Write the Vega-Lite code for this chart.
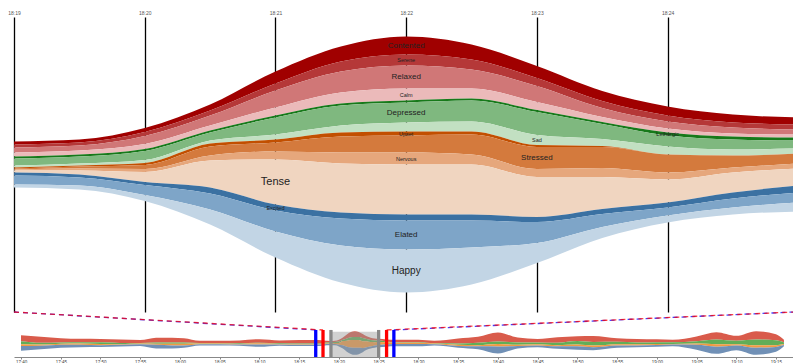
{
"$schema": "https://vega.github.io/schema/vega-lite/v6.json",
"padding": {"left": 7, "top": 10, "right": 0, "bottom": 0},
"background": "white",
"spacing": 0,
"bounds": "flush",
"resolve": {"scale": {"color": "independent", "stroke": "independent", "size": "independent"}},
"config": {"view": {"stroke": null}, "font": "Liberation Sans"},
"datasets": {
"moods": [
{"time":"2024-01-01T18:19:00Z","mood":"Contented","value":3},{"time":"2024-01-01T18:19:00Z","mood":"Serene","value":3},{"time":"2024-01-01T18:19:00Z","mood":"Relaxed","value":5},{"time":"2024-01-01T18:19:00Z","mood":"Calm","value":4},{"time":"2024-01-01T18:19:00Z","mood":"Lethargic","value":2},{"time":"2024-01-01T18:19:00Z","mood":"Depressed","value":7},{"time":"2024-01-01T18:19:00Z","mood":"Sad","value":2},{"time":"2024-01-01T18:19:00Z","mood":"Upset","value":1},{"time":"2024-01-01T18:19:00Z","mood":"Stressed","value":1},{"time":"2024-01-01T18:19:00Z","mood":"Nervous","value":1},{"time":"2024-01-01T18:19:00Z","mood":"Tense","value":2},{"time":"2024-01-01T18:19:00Z","mood":"Excited","value":3},{"time":"2024-01-01T18:19:00Z","mood":"Elated","value":9},{"time":"2024-01-01T18:19:00Z","mood":"Happy","value":3},
{"time":"2024-01-01T18:19:30Z","mood":"Contented","value":3},{"time":"2024-01-01T18:19:30Z","mood":"Serene","value":3},{"time":"2024-01-01T18:19:30Z","mood":"Relaxed","value":5},{"time":"2024-01-01T18:19:30Z","mood":"Calm","value":4},{"time":"2024-01-01T18:19:30Z","mood":"Lethargic","value":2},{"time":"2024-01-01T18:19:30Z","mood":"Depressed","value":7},{"time":"2024-01-01T18:19:30Z","mood":"Sad","value":2},{"time":"2024-01-01T18:19:30Z","mood":"Upset","value":1},{"time":"2024-01-01T18:19:30Z","mood":"Stressed","value":2},{"time":"2024-01-01T18:19:30Z","mood":"Nervous","value":2},{"time":"2024-01-01T18:19:30Z","mood":"Tense","value":4},{"time":"2024-01-01T18:19:30Z","mood":"Excited","value":3},{"time":"2024-01-01T18:19:30Z","mood":"Elated","value":8},{"time":"2024-01-01T18:19:30Z","mood":"Happy","value":4},
{"time":"2024-01-01T18:20:00Z","mood":"Contented","value":4},{"time":"2024-01-01T18:20:00Z","mood":"Serene","value":4},{"time":"2024-01-01T18:20:00Z","mood":"Relaxed","value":8},{"time":"2024-01-01T18:20:00Z","mood":"Calm","value":5},{"time":"2024-01-01T18:20:00Z","mood":"Lethargic","value":2},{"time":"2024-01-01T18:20:00Z","mood":"Depressed","value":9},{"time":"2024-01-01T18:20:00Z","mood":"Sad","value":3},{"time":"2024-01-01T18:20:00Z","mood":"Upset","value":2},{"time":"2024-01-01T18:20:00Z","mood":"Stressed","value":4},{"time":"2024-01-01T18:20:00Z","mood":"Nervous","value":3},{"time":"2024-01-01T18:20:00Z","mood":"Tense","value":10},{"time":"2024-01-01T18:20:00Z","mood":"Excited","value":3},{"time":"2024-01-01T18:20:00Z","mood":"Elated","value":10},{"time":"2024-01-01T18:20:00Z","mood":"Happy","value":6},
{"time":"2024-01-01T18:20:30Z","mood":"Contented","value":6},{"time":"2024-01-01T18:20:30Z","mood":"Serene","value":5},{"time":"2024-01-01T18:20:30Z","mood":"Relaxed","value":10},{"time":"2024-01-01T18:20:30Z","mood":"Calm","value":5},{"time":"2024-01-01T18:20:30Z","mood":"Lethargic","value":2},{"time":"2024-01-01T18:20:30Z","mood":"Depressed","value":8},{"time":"2024-01-01T18:20:30Z","mood":"Sad","value":3},{"time":"2024-01-01T18:20:30Z","mood":"Upset","value":3},{"time":"2024-01-01T18:20:30Z","mood":"Stressed","value":9},{"time":"2024-01-01T18:20:30Z","mood":"Nervous","value":5},{"time":"2024-01-01T18:20:30Z","mood":"Tense","value":27},{"time":"2024-01-01T18:20:30Z","mood":"Excited","value":6},{"time":"2024-01-01T18:20:30Z","mood":"Elated","value":16},{"time":"2024-01-01T18:20:30Z","mood":"Happy","value":15},
{"time":"2024-01-01T18:21:00Z","mood":"Contented","value":12},{"time":"2024-01-01T18:21:00Z","mood":"Serene","value":7},{"time":"2024-01-01T18:21:00Z","mood":"Relaxed","value":17},{"time":"2024-01-01T18:21:00Z","mood":"Calm","value":8},{"time":"2024-01-01T18:21:00Z","mood":"Lethargic","value":2},{"time":"2024-01-01T18:21:00Z","mood":"Depressed","value":17},{"time":"2024-01-01T18:21:00Z","mood":"Sad","value":5},{"time":"2024-01-01T18:21:00Z","mood":"Upset","value":3},{"time":"2024-01-01T18:21:00Z","mood":"Stressed","value":9},{"time":"2024-01-01T18:21:00Z","mood":"Nervous","value":8},{"time":"2024-01-01T18:21:00Z","mood":"Tense","value":45},{"time":"2024-01-01T18:21:00Z","mood":"Excited","value":6},{"time":"2024-01-01T18:21:00Z","mood":"Elated","value":21},{"time":"2024-01-01T18:21:00Z","mood":"Happy","value":26},
{"time":"2024-01-01T18:21:30Z","mood":"Contented","value":15},{"time":"2024-01-01T18:21:30Z","mood":"Serene","value":10},{"time":"2024-01-01T18:21:30Z","mood":"Relaxed","value":21},{"time":"2024-01-01T18:21:30Z","mood":"Calm","value":11},{"time":"2024-01-01T18:21:30Z","mood":"Lethargic","value":2},{"time":"2024-01-01T18:21:30Z","mood":"Depressed","value":20},{"time":"2024-01-01T18:21:30Z","mood":"Sad","value":7},{"time":"2024-01-01T18:21:30Z","mood":"Upset","value":4},{"time":"2024-01-01T18:21:30Z","mood":"Stressed","value":16},{"time":"2024-01-01T18:21:30Z","mood":"Nervous","value":11},{"time":"2024-01-01T18:21:30Z","mood":"Tense","value":49},{"time":"2024-01-01T18:21:30Z","mood":"Excited","value":6},{"time":"2024-01-01T18:21:30Z","mood":"Elated","value":27},{"time":"2024-01-01T18:21:30Z","mood":"Happy","value":37},
{"time":"2024-01-01T18:22:00Z","mood":"Contented","value":18},{"time":"2024-01-01T18:22:00Z","mood":"Serene","value":11},{"time":"2024-01-01T18:22:00Z","mood":"Relaxed","value":23},{"time":"2024-01-01T18:22:00Z","mood":"Calm","value":12},{"time":"2024-01-01T18:22:00Z","mood":"Lethargic","value":2},{"time":"2024-01-01T18:22:00Z","mood":"Depressed","value":20},{"time":"2024-01-01T18:22:00Z","mood":"Sad","value":9},{"time":"2024-01-01T18:22:00Z","mood":"Upset","value":4},{"time":"2024-01-01T18:22:00Z","mood":"Stressed","value":17},{"time":"2024-01-01T18:22:00Z","mood":"Nervous","value":12},{"time":"2024-01-01T18:22:00Z","mood":"Tense","value":50},{"time":"2024-01-01T18:22:00Z","mood":"Excited","value":6},{"time":"2024-01-01T18:22:00Z","mood":"Elated","value":29},{"time":"2024-01-01T18:22:00Z","mood":"Happy","value":43},
{"time":"2024-01-01T18:22:30Z","mood":"Contented","value":15},{"time":"2024-01-01T18:22:30Z","mood":"Serene","value":10},{"time":"2024-01-01T18:22:30Z","mood":"Relaxed","value":19},{"time":"2024-01-01T18:22:30Z","mood":"Calm","value":10},{"time":"2024-01-01T18:22:30Z","mood":"Lethargic","value":2},{"time":"2024-01-01T18:22:30Z","mood":"Depressed","value":21},{"time":"2024-01-01T18:22:30Z","mood":"Sad","value":10},{"time":"2024-01-01T18:22:30Z","mood":"Upset","value":3},{"time":"2024-01-01T18:22:30Z","mood":"Stressed","value":20},{"time":"2024-01-01T18:22:30Z","mood":"Nervous","value":10},{"time":"2024-01-01T18:22:30Z","mood":"Tense","value":50},{"time":"2024-01-01T18:22:30Z","mood":"Excited","value":6},{"time":"2024-01-01T18:22:30Z","mood":"Elated","value":27},{"time":"2024-01-01T18:22:30Z","mood":"Happy","value":37},
{"time":"2024-01-01T18:23:00Z","mood":"Contented","value":12},{"time":"2024-01-01T18:23:00Z","mood":"Serene","value":8},{"time":"2024-01-01T18:23:00Z","mood":"Relaxed","value":16},{"time":"2024-01-01T18:23:00Z","mood":"Calm","value":8},{"time":"2024-01-01T18:23:00Z","mood":"Lethargic","value":2},{"time":"2024-01-01T18:23:00Z","mood":"Depressed","value":23},{"time":"2024-01-01T18:23:00Z","mood":"Sad","value":10},{"time":"2024-01-01T18:23:00Z","mood":"Upset","value":2},{"time":"2024-01-01T18:23:00Z","mood":"Stressed","value":22},{"time":"2024-01-01T18:23:00Z","mood":"Nervous","value":8},{"time":"2024-01-01T18:23:00Z","mood":"Tense","value":40},{"time":"2024-01-01T18:23:00Z","mood":"Excited","value":5},{"time":"2024-01-01T18:23:00Z","mood":"Elated","value":21},{"time":"2024-01-01T18:23:00Z","mood":"Happy","value":20},
{"time":"2024-01-01T18:23:30Z","mood":"Contented","value":10},{"time":"2024-01-01T18:23:30Z","mood":"Serene","value":7},{"time":"2024-01-01T18:23:30Z","mood":"Relaxed","value":9},{"time":"2024-01-01T18:23:30Z","mood":"Calm","value":5},{"time":"2024-01-01T18:23:30Z","mood":"Lethargic","value":2},{"time":"2024-01-01T18:23:30Z","mood":"Depressed","value":15},{"time":"2024-01-01T18:23:30Z","mood":"Sad","value":7},{"time":"2024-01-01T18:23:30Z","mood":"Upset","value":1},{"time":"2024-01-01T18:23:30Z","mood":"Stressed","value":21},{"time":"2024-01-01T18:23:30Z","mood":"Nervous","value":9},{"time":"2024-01-01T18:23:30Z","mood":"Tense","value":32},{"time":"2024-01-01T18:23:30Z","mood":"Excited","value":5},{"time":"2024-01-01T18:23:30Z","mood":"Elated","value":13},{"time":"2024-01-01T18:23:30Z","mood":"Happy","value":11},
{"time":"2024-01-01T18:24:00Z","mood":"Contented","value":9},{"time":"2024-01-01T18:24:00Z","mood":"Serene","value":6},{"time":"2024-01-01T18:24:00Z","mood":"Relaxed","value":7},{"time":"2024-01-01T18:24:00Z","mood":"Calm","value":4},{"time":"2024-01-01T18:24:00Z","mood":"Lethargic","value":3},{"time":"2024-01-01T18:24:00Z","mood":"Depressed","value":11},{"time":"2024-01-01T18:24:00Z","mood":"Sad","value":8},{"time":"2024-01-01T18:24:00Z","mood":"Upset","value":0},{"time":"2024-01-01T18:24:00Z","mood":"Stressed","value":18},{"time":"2024-01-01T18:24:00Z","mood":"Nervous","value":7},{"time":"2024-01-01T18:24:00Z","mood":"Tense","value":23},{"time":"2024-01-01T18:24:00Z","mood":"Excited","value":5},{"time":"2024-01-01T18:24:00Z","mood":"Elated","value":8},{"time":"2024-01-01T18:24:00Z","mood":"Happy","value":7},
{"time":"2024-01-01T18:24:30Z","mood":"Contented","value":8},{"time":"2024-01-01T18:24:30Z","mood":"Serene","value":5},{"time":"2024-01-01T18:24:30Z","mood":"Relaxed","value":6},{"time":"2024-01-01T18:24:30Z","mood":"Calm","value":3},{"time":"2024-01-01T18:24:30Z","mood":"Lethargic","value":3},{"time":"2024-01-01T18:24:30Z","mood":"Depressed","value":10},{"time":"2024-01-01T18:24:30Z","mood":"Sad","value":6},{"time":"2024-01-01T18:24:30Z","mood":"Upset","value":0},{"time":"2024-01-01T18:24:30Z","mood":"Stressed","value":12},{"time":"2024-01-01T18:24:30Z","mood":"Nervous","value":5},{"time":"2024-01-01T18:24:30Z","mood":"Tense","value":20},{"time":"2024-01-01T18:24:30Z","mood":"Excited","value":6},{"time":"2024-01-01T18:24:30Z","mood":"Elated","value":9},{"time":"2024-01-01T18:24:30Z","mood":"Happy","value":7},
{"time":"2024-01-01T18:25:00Z","mood":"Contented","value":7},{"time":"2024-01-01T18:25:00Z","mood":"Serene","value":5},{"time":"2024-01-01T18:25:00Z","mood":"Relaxed","value":5},{"time":"2024-01-01T18:25:00Z","mood":"Calm","value":3},{"time":"2024-01-01T18:25:00Z","mood":"Lethargic","value":3},{"time":"2024-01-01T18:25:00Z","mood":"Depressed","value":8},{"time":"2024-01-01T18:25:00Z","mood":"Sad","value":5},{"time":"2024-01-01T18:25:00Z","mood":"Upset","value":0},{"time":"2024-01-01T18:25:00Z","mood":"Stressed","value":10},{"time":"2024-01-01T18:25:00Z","mood":"Nervous","value":5},{"time":"2024-01-01T18:25:00Z","mood":"Tense","value":17},{"time":"2024-01-01T18:25:00Z","mood":"Excited","value":7},{"time":"2024-01-01T18:25:00Z","mood":"Elated","value":10},{"time":"2024-01-01T18:25:00Z","mood":"Happy","value":9}
],
"labels": [
{"mood":"Contented","labelTime":1704133320000},{"mood":"Serene","labelTime":1704133320000},{"mood":"Relaxed","labelTime":1704133320000},{"mood":"Calm","labelTime":1704133320000},{"mood":"Depressed","labelTime":1704133320000},{"mood":"Upset","labelTime":1704133320000},{"mood":"Lethargic","labelTime":1704133440000},{"mood":"Sad","labelTime":1704133380000},{"mood":"Stressed","labelTime":1704133380000},{"mood":"Nervous","labelTime":1704133320000},{"mood":"Tense","labelTime":1704133260000},{"mood":"Excited","labelTime":1704133260000},{"mood":"Elated","labelTime":1704133320000},{"mood":"Happy","labelTime":1704133320000}
],
"overview": [
{"time":"2024-01-01T17:40:00Z","group":"PositiveLow","value":65},{"time":"2024-01-01T17:40:00Z","group":"NegativeLow","value":32},{"time":"2024-01-01T17:40:00Z","group":"NegativeHigh","value":19},{"time":"2024-01-01T17:40:00Z","group":"PositiveHigh","value":52},
{"time":"2024-01-01T17:42:30Z","group":"PositiveLow","value":65},{"time":"2024-01-01T17:42:30Z","group":"NegativeLow","value":19},{"time":"2024-01-01T17:42:30Z","group":"NegativeHigh","value":13},{"time":"2024-01-01T17:42:30Z","group":"PositiveHigh","value":38},
{"time":"2024-01-01T17:45:00Z","group":"PositiveLow","value":46},{"time":"2024-01-01T17:45:00Z","group":"NegativeLow","value":13},{"time":"2024-01-01T17:45:00Z","group":"NegativeHigh","value":13},{"time":"2024-01-01T17:45:00Z","group":"PositiveHigh","value":32},
{"time":"2024-01-01T17:47:30Z","group":"PositiveLow","value":38},{"time":"2024-01-01T17:47:30Z","group":"NegativeLow","value":13},{"time":"2024-01-01T17:47:30Z","group":"NegativeHigh","value":13},{"time":"2024-01-01T17:47:30Z","group":"PositiveHigh","value":26},
{"time":"2024-01-01T17:50:00Z","group":"PositiveLow","value":35},{"time":"2024-01-01T17:50:00Z","group":"NegativeLow","value":19},{"time":"2024-01-01T17:50:00Z","group":"NegativeHigh","value":13},{"time":"2024-01-01T17:50:00Z","group":"PositiveHigh","value":19},
{"time":"2024-01-01T17:52:30Z","group":"PositiveLow","value":38},{"time":"2024-01-01T17:52:30Z","group":"NegativeLow","value":13},{"time":"2024-01-01T17:52:30Z","group":"NegativeHigh","value":6},{"time":"2024-01-01T17:52:30Z","group":"PositiveHigh","value":19},
{"time":"2024-01-01T17:55:00Z","group":"PositiveLow","value":32},{"time":"2024-01-01T17:55:00Z","group":"NegativeLow","value":6},{"time":"2024-01-01T17:55:00Z","group":"NegativeHigh","value":6},{"time":"2024-01-01T17:55:00Z","group":"PositiveHigh","value":19},
{"time":"2024-01-01T17:57:00Z","group":"PositiveLow","value":52},{"time":"2024-01-01T17:57:00Z","group":"NegativeLow","value":13},{"time":"2024-01-01T17:57:00Z","group":"NegativeHigh","value":13},{"time":"2024-01-01T17:57:00Z","group":"PositiveHigh","value":38},
{"time":"2024-01-01T17:59:00Z","group":"PositiveLow","value":52},{"time":"2024-01-01T17:59:00Z","group":"NegativeLow","value":13},{"time":"2024-01-01T17:59:00Z","group":"NegativeHigh","value":19},{"time":"2024-01-01T17:59:00Z","group":"PositiveHigh","value":32},
{"time":"2024-01-01T18:00:30Z","group":"PositiveLow","value":46},{"time":"2024-01-01T18:00:30Z","group":"NegativeLow","value":13},{"time":"2024-01-01T18:00:30Z","group":"NegativeHigh","value":19},{"time":"2024-01-01T18:00:30Z","group":"PositiveHigh","value":26},
{"time":"2024-01-01T18:02:30Z","group":"PositiveLow","value":26},{"time":"2024-01-01T18:02:30Z","group":"NegativeLow","value":6},{"time":"2024-01-01T18:02:30Z","group":"NegativeHigh","value":6},{"time":"2024-01-01T18:02:30Z","group":"PositiveHigh","value":13},
{"time":"2024-01-01T18:05:00Z","group":"PositiveLow","value":26},{"time":"2024-01-01T18:05:00Z","group":"NegativeLow","value":6},{"time":"2024-01-01T18:05:00Z","group":"NegativeHigh","value":6},{"time":"2024-01-01T18:05:00Z","group":"PositiveHigh","value":13},
{"time":"2024-01-01T18:07:30Z","group":"PositiveLow","value":32},{"time":"2024-01-01T18:07:30Z","group":"NegativeLow","value":6},{"time":"2024-01-01T18:07:30Z","group":"NegativeHigh","value":6},{"time":"2024-01-01T18:07:30Z","group":"PositiveHigh","value":13},
{"time":"2024-01-01T18:10:00Z","group":"PositiveLow","value":38},{"time":"2024-01-01T18:10:00Z","group":"NegativeLow","value":6},{"time":"2024-01-01T18:10:00Z","group":"NegativeHigh","value":13},{"time":"2024-01-01T18:10:00Z","group":"PositiveHigh","value":26},
{"time":"2024-01-01T18:12:30Z","group":"PositiveLow","value":32},{"time":"2024-01-01T18:12:30Z","group":"NegativeLow","value":6},{"time":"2024-01-01T18:12:30Z","group":"NegativeHigh","value":6},{"time":"2024-01-01T18:12:30Z","group":"PositiveHigh","value":13},
{"time":"2024-01-01T18:15:00Z","group":"PositiveLow","value":38},{"time":"2024-01-01T18:15:00Z","group":"NegativeLow","value":6},{"time":"2024-01-01T18:15:00Z","group":"NegativeHigh","value":6},{"time":"2024-01-01T18:15:00Z","group":"PositiveHigh","value":13},
{"time":"2024-01-01T18:17:00Z","group":"PositiveLow","value":38},{"time":"2024-01-01T18:17:00Z","group":"NegativeLow","value":6},{"time":"2024-01-01T18:17:00Z","group":"NegativeHigh","value":6},{"time":"2024-01-01T18:17:00Z","group":"PositiveHigh","value":13},
{"time":"2024-01-01T18:19:00Z","group":"PositiveLow","value":15},{"time":"2024-01-01T18:19:00Z","group":"NegativeLow","value":11},{"time":"2024-01-01T18:19:00Z","group":"NegativeHigh","value":5},{"time":"2024-01-01T18:19:00Z","group":"PositiveHigh","value":15},
{"time":"2024-01-01T18:19:30Z","group":"PositiveLow","value":15},{"time":"2024-01-01T18:19:30Z","group":"NegativeLow","value":11},{"time":"2024-01-01T18:19:30Z","group":"NegativeHigh","value":9},{"time":"2024-01-01T18:19:30Z","group":"PositiveHigh","value":15},
{"time":"2024-01-01T18:20:00Z","group":"PositiveLow","value":21},{"time":"2024-01-01T18:20:00Z","group":"NegativeLow","value":14},{"time":"2024-01-01T18:20:00Z","group":"NegativeHigh","value":19},{"time":"2024-01-01T18:20:00Z","group":"PositiveHigh","value":19},
{"time":"2024-01-01T18:20:30Z","group":"PositiveLow","value":26},{"time":"2024-01-01T18:20:30Z","group":"NegativeLow","value":13},{"time":"2024-01-01T18:20:30Z","group":"NegativeHigh","value":44},{"time":"2024-01-01T18:20:30Z","group":"PositiveHigh","value":37},
{"time":"2024-01-01T18:21:00Z","group":"PositiveLow","value":44},{"time":"2024-01-01T18:21:00Z","group":"NegativeLow","value":24},{"time":"2024-01-01T18:21:00Z","group":"NegativeHigh","value":65},{"time":"2024-01-01T18:21:00Z","group":"PositiveHigh","value":53},
{"time":"2024-01-01T18:21:30Z","group":"PositiveLow","value":57},{"time":"2024-01-01T18:21:30Z","group":"NegativeLow","value":29},{"time":"2024-01-01T18:21:30Z","group":"NegativeHigh","value":80},{"time":"2024-01-01T18:21:30Z","group":"PositiveHigh","value":70},
{"time":"2024-01-01T18:22:00Z","group":"PositiveLow","value":64},{"time":"2024-01-01T18:22:00Z","group":"NegativeLow","value":31},{"time":"2024-01-01T18:22:00Z","group":"NegativeHigh","value":83},{"time":"2024-01-01T18:22:00Z","group":"PositiveHigh","value":78},
{"time":"2024-01-01T18:22:30Z","group":"PositiveLow","value":54},{"time":"2024-01-01T18:22:30Z","group":"NegativeLow","value":33},{"time":"2024-01-01T18:22:30Z","group":"NegativeHigh","value":83},{"time":"2024-01-01T18:22:30Z","group":"PositiveHigh","value":70},
{"time":"2024-01-01T18:23:00Z","group":"PositiveLow","value":44},{"time":"2024-01-01T18:23:00Z","group":"NegativeLow","value":35},{"time":"2024-01-01T18:23:00Z","group":"NegativeHigh","value":72},{"time":"2024-01-01T18:23:00Z","group":"PositiveHigh","value":46},
{"time":"2024-01-01T18:23:30Z","group":"PositiveLow","value":31},{"time":"2024-01-01T18:23:30Z","group":"NegativeLow","value":24},{"time":"2024-01-01T18:23:30Z","group":"NegativeHigh","value":63},{"time":"2024-01-01T18:23:30Z","group":"PositiveHigh","value":29},
{"time":"2024-01-01T18:24:00Z","group":"PositiveLow","value":26},{"time":"2024-01-01T18:24:00Z","group":"NegativeLow","value":22},{"time":"2024-01-01T18:24:00Z","group":"NegativeHigh","value":48},{"time":"2024-01-01T18:24:00Z","group":"PositiveHigh","value":20},
{"time":"2024-01-01T18:24:30Z","group":"PositiveLow","value":22},{"time":"2024-01-01T18:24:30Z","group":"NegativeLow","value":19},{"time":"2024-01-01T18:24:30Z","group":"NegativeHigh","value":37},{"time":"2024-01-01T18:24:30Z","group":"PositiveHigh","value":22},
{"time":"2024-01-01T18:25:00Z","group":"PositiveLow","value":20},{"time":"2024-01-01T18:25:00Z","group":"NegativeLow","value":16},{"time":"2024-01-01T18:25:00Z","group":"NegativeHigh","value":32},{"time":"2024-01-01T18:25:00Z","group":"PositiveHigh","value":26},
{"time":"2024-01-01T18:27:00Z","group":"PositiveLow","value":26},{"time":"2024-01-01T18:27:00Z","group":"NegativeLow","value":6},{"time":"2024-01-01T18:27:00Z","group":"NegativeHigh","value":13},{"time":"2024-01-01T18:27:00Z","group":"PositiveHigh","value":26},
{"time":"2024-01-01T18:30:00Z","group":"PositiveLow","value":26},{"time":"2024-01-01T18:30:00Z","group":"NegativeLow","value":6},{"time":"2024-01-01T18:30:00Z","group":"NegativeHigh","value":13},{"time":"2024-01-01T18:30:00Z","group":"PositiveHigh","value":26},
{"time":"2024-01-01T18:32:00Z","group":"PositiveLow","value":26},{"time":"2024-01-01T18:32:00Z","group":"NegativeLow","value":6},{"time":"2024-01-01T18:32:00Z","group":"NegativeHigh","value":6},{"time":"2024-01-01T18:32:00Z","group":"PositiveHigh","value":13},
{"time":"2024-01-01T18:35:00Z","group":"PositiveLow","value":55},{"time":"2024-01-01T18:35:00Z","group":"NegativeLow","value":13},{"time":"2024-01-01T18:35:00Z","group":"NegativeHigh","value":13},{"time":"2024-01-01T18:35:00Z","group":"PositiveHigh","value":19},
{"time":"2024-01-01T18:37:30Z","group":"PositiveLow","value":65},{"time":"2024-01-01T18:37:30Z","group":"NegativeLow","value":26},{"time":"2024-01-01T18:37:30Z","group":"NegativeHigh","value":13},{"time":"2024-01-01T18:37:30Z","group":"PositiveHigh","value":32},
{"time":"2024-01-01T18:40:00Z","group":"PositiveLow","value":97},{"time":"2024-01-01T18:40:00Z","group":"NegativeLow","value":27},{"time":"2024-01-01T18:40:00Z","group":"NegativeHigh","value":27},{"time":"2024-01-01T18:40:00Z","group":"PositiveHigh","value":76},
{"time":"2024-01-01T18:42:30Z","group":"PositiveLow","value":52},{"time":"2024-01-01T18:42:30Z","group":"NegativeLow","value":26},{"time":"2024-01-01T18:42:30Z","group":"NegativeHigh","value":13},{"time":"2024-01-01T18:42:30Z","group":"PositiveHigh","value":26},
{"time":"2024-01-01T18:45:00Z","group":"PositiveLow","value":38},{"time":"2024-01-01T18:45:00Z","group":"NegativeLow","value":19},{"time":"2024-01-01T18:45:00Z","group":"NegativeHigh","value":13},{"time":"2024-01-01T18:45:00Z","group":"PositiveHigh","value":19},
{"time":"2024-01-01T18:47:30Z","group":"PositiveLow","value":59},{"time":"2024-01-01T18:47:30Z","group":"NegativeLow","value":26},{"time":"2024-01-01T18:47:30Z","group":"NegativeHigh","value":13},{"time":"2024-01-01T18:47:30Z","group":"PositiveHigh","value":26},
{"time":"2024-01-01T18:50:00Z","group":"PositiveLow","value":52},{"time":"2024-01-01T18:50:00Z","group":"NegativeLow","value":38},{"time":"2024-01-01T18:50:00Z","group":"NegativeHigh","value":19},{"time":"2024-01-01T18:50:00Z","group":"PositiveHigh","value":38},
{"time":"2024-01-01T18:52:00Z","group":"PositiveLow","value":65},{"time":"2024-01-01T18:52:00Z","group":"NegativeLow","value":38},{"time":"2024-01-01T18:52:00Z","group":"NegativeHigh","value":19},{"time":"2024-01-01T18:52:00Z","group":"PositiveHigh","value":32},
{"time":"2024-01-01T18:55:00Z","group":"PositiveLow","value":38},{"time":"2024-01-01T18:55:00Z","group":"NegativeLow","value":26},{"time":"2024-01-01T18:55:00Z","group":"NegativeHigh","value":13},{"time":"2024-01-01T18:55:00Z","group":"PositiveHigh","value":26},
{"time":"2024-01-01T18:57:30Z","group":"PositiveLow","value":38},{"time":"2024-01-01T18:57:30Z","group":"NegativeLow","value":19},{"time":"2024-01-01T18:57:30Z","group":"NegativeHigh","value":13},{"time":"2024-01-01T18:57:30Z","group":"PositiveHigh","value":19},
{"time":"2024-01-01T19:00:00Z","group":"PositiveLow","value":32},{"time":"2024-01-01T19:00:00Z","group":"NegativeLow","value":19},{"time":"2024-01-01T19:00:00Z","group":"NegativeHigh","value":13},{"time":"2024-01-01T19:00:00Z","group":"PositiveHigh","value":19},
{"time":"2024-01-01T19:02:00Z","group":"PositiveLow","value":26},{"time":"2024-01-01T19:02:00Z","group":"NegativeLow","value":19},{"time":"2024-01-01T19:02:00Z","group":"NegativeHigh","value":6},{"time":"2024-01-01T19:02:00Z","group":"PositiveHigh","value":19},
{"time":"2024-01-01T19:05:00Z","group":"PositiveLow","value":52},{"time":"2024-01-01T19:05:00Z","group":"NegativeLow","value":26},{"time":"2024-01-01T19:05:00Z","group":"NegativeHigh","value":13},{"time":"2024-01-01T19:05:00Z","group":"PositiveHigh","value":52},
{"time":"2024-01-01T19:07:30Z","group":"PositiveLow","value":78},{"time":"2024-01-01T19:07:30Z","group":"NegativeLow","value":52},{"time":"2024-01-01T19:07:30Z","group":"NegativeHigh","value":26},{"time":"2024-01-01T19:07:30Z","group":"PositiveHigh","value":78},
{"time":"2024-01-01T19:10:00Z","group":"PositiveLow","value":52},{"time":"2024-01-01T19:10:00Z","group":"NegativeLow","value":38},{"time":"2024-01-01T19:10:00Z","group":"NegativeHigh","value":13},{"time":"2024-01-01T19:10:00Z","group":"PositiveHigh","value":52},
{"time":"2024-01-01T19:12:30Z","group":"PositiveLow","value":90},{"time":"2024-01-01T19:12:30Z","group":"NegativeLow","value":63},{"time":"2024-01-01T19:12:30Z","group":"NegativeHigh","value":26},{"time":"2024-01-01T19:12:30Z","group":"PositiveHigh","value":77},
{"time":"2024-01-01T19:15:00Z","group":"PositiveLow","value":65},{"time":"2024-01-01T19:15:00Z","group":"NegativeLow","value":52},{"time":"2024-01-01T19:15:00Z","group":"NegativeHigh","value":19},{"time":"2024-01-01T19:15:00Z","group":"PositiveHigh","value":52},
{"time":"2024-01-01T19:16:00Z","group":"PositiveLow","value":26},{"time":"2024-01-01T19:16:00Z","group":"NegativeLow","value":19},{"time":"2024-01-01T19:16:00Z","group":"NegativeHigh","value":13},{"time":"2024-01-01T19:16:00Z","group":"PositiveHigh","value":13}
],
"brush": [{"start":"2024-01-01T18:19:00Z","end":"2024-01-01T18:25:00Z","lo":-23,"hi":250}],
"handles": [
{"time":"2024-01-01T18:17:05Z","kind":"outer","lo":-23,"hi":269},{"time":"2024-01-01T18:18:00Z","kind":"inner","lo":-23,"hi":269},{"time":"2024-01-01T18:19:00Z","kind":"edge","lo":-23,"hi":269},
{"time":"2024-01-01T18:25:00Z","kind":"edge","lo":-23,"hi":269},{"time":"2024-01-01T18:26:00Z","kind":"inner","lo":-23,"hi":269},{"time":"2024-01-01T18:26:55Z","kind":"outer","lo":-23,"hi":269}
],
"connectors": [
{"line":"Lb","kind":"outer","time":"2024-01-01T17:39:07Z","v":463},{"line":"Lb","kind":"outer","time":"2024-01-01T18:17:05Z","v":269},
{"line":"Lr","kind":"inner","time":"2024-01-01T17:39:07Z","v":463},{"line":"Lr","kind":"inner","time":"2024-01-01T18:18:00Z","v":269},
{"line":"Rb","kind":"outer","time":"2024-01-01T18:26:55Z","v":269},{"line":"Rb","kind":"outer","time":"2024-01-01T19:17:16Z","v":463},
{"line":"Rr","kind":"inner","time":"2024-01-01T18:26:00Z","v":269},{"line":"Rr","kind":"inner","time":"2024-01-01T19:17:16Z","v":463}
]
},
"vconcat": [
{
"width": 780, "height": 295,
"data": {"name": "moods"},
"transform": [
{"calculate": "indexof(['Contented','Serene','Relaxed','Calm','Lethargic','Depressed','Sad','Upset','Stressed','Nervous','Tense','Excited','Elated','Happy'], datum.mood)", "as": "k"},
{"stack": "value", "groupby": ["time"], "offset": "center", "sort": [{"field": "k", "order": "descending"}], "as": ["y0", "y1"]}
],
"layer": [
{
"mark": {"type": "area", "interpolate": "monotone", "clip": true},
"encoding": {
"x": {"field": "time", "type": "temporal", "scale": {"type": "utc", "domain": [1704133140000, 1704133498000], "nice": false},
"axis": {"orient": "top", "title": null, "format": "%H:%M", "tickCount": 6, "grid": true, "gridColor": "#000", "gridOpacity": 1, "gridWidth": 1.3, "domain": false, "ticks": false, "labelFlush": false, "labelOverlap": false, "labelFontSize": 5, "labelColor": "#555", "labelPadding": 2}},
"y": {"field": "y0", "type": "quantitative", "scale": {"domain": [-19.5, 275.5], "nice": false, "zero": false}, "axis": null},
"y2": {"field": "y1"},
"color": {"field": "mood", "type": "nominal", "legend": null, "scale": {"domain": ["Contented","Serene","Relaxed","Calm","Lethargic","Depressed","Sad","Upset","Stressed","Nervous","Tense","Excited","Elated","Happy"], "range": ["#a00000","#b53838","#d07777","#ebbaba","#17791a","#7fb87f","#c2e0c2","#c24f00","#d47a3d","#e6a77c","#f0d5c0","#3b71a2","#7ea5c8","#c2d5e5"]}}
}
},
{
"transform": [
{"lookup": "mood", "from": {"data": {"name": "labels"}, "key": "mood", "fields": ["labelTime"]}},
{"filter": "datum.labelTime != null && +toDate(datum.time) === datum.labelTime"},
{"calculate": "(datum.y0 + datum.y1) / 2", "as": "mid"}
],
"mark": {"type": "text", "color": "#222", "baseline": "middle", "align": "center"},
"encoding": {
"x": {"field": "time", "type": "temporal", "scale": {"type": "utc", "domain": [1704133140000, 1704133498000], "nice": false}},
"y": {"field": "mid", "type": "quantitative", "scale": {"domain": [-19.5, 275.5], "nice": false, "zero": false}},
"text": {"field": "mood"},
"size": {"field": "value", "type": "quantitative", "legend": null, "scale": {"type": "threshold", "domain": [15, 35, 45], "range": [5.5, 8, 10, 11]}}
}
}
]
},
{
"width": 780, "height": 45,
"resolve": {"scale": {"color": "independent", "stroke": "shared"}},
"layer": [
{
"data": {"name": "overview"},
"transform": [{"calculate": "indexof(['PositiveLow','NegativeLow','NegativeHigh','PositiveHigh'], datum.group)", "as": "k"}],
"mark": {"type": "area", "interpolate": "monotone"},
"encoding": {
"x": {"field": "time", "type": "temporal", "scale": {"type": "utc", "domain": [1704130747000, 1704136636000], "nice": false},
"axis": {"orient": "bottom", "title": null, "format": "%H:%M", "tickCount": 20, "grid": false, "labelFlush": false, "labelOverlap": false, "labelFontSize": 4.5, "labelColor": "#444", "labelPadding": 0, "domainColor": "#888", "tickColor": "#888", "tickSize": 2}},
"y": {"field": "value", "type": "quantitative", "stack": "center", "scale": {"domain": [-23, 463], "nice": false, "zero": false}, "axis": null},
"color": {"field": "group", "type": "nominal", "legend": null, "scale": {"domain": ["PositiveLow","NegativeLow","NegativeHigh","PositiveHigh"], "range": ["#d95b4b","#62ad57","#f19a42","#7090b6"]}},
"order": {"field": "k", "type": "quantitative", "sort": "descending"}
}
},
{
"data": {"name": "brush"},
"mark": {"type": "rect", "color": "#999", "opacity": 0.45},
"encoding": {
"x": {"field": "start", "type": "temporal", "scale": {"type": "utc", "domain": [1704130747000, 1704136636000], "nice": false}},
"x2": {"field": "end"},
"y": {"field": "lo", "type": "quantitative", "scale": {"domain": [-23, 463], "nice": false, "zero": false}},
"y2": {"field": "hi"}
}
},
{
"data": {"name": "connectors"},
"mark": {"type": "line", "strokeDash": [5, 4], "strokeWidth": 1.3, "opacity": 0.75},
"encoding": {
"x": {"field": "time", "type": "temporal", "scale": {"type": "utc", "domain": [1704130747000, 1704136636000], "nice": false}},
"y": {"field": "v", "type": "quantitative", "scale": {"domain": [-23, 463], "nice": false, "zero": false}},
"detail": {"field": "line", "type": "nominal"},
"stroke": {"field": "kind", "type": "nominal", "legend": null, "scale": {"domain": ["edge","inner","outer"], "range": ["#888888","#ff0000","#0000ff"]}}
}
},
{
"data": {"name": "handles"},
"mark": {"type": "rule", "strokeWidth": 3.3},
"encoding": {
"x": {"field": "time", "type": "temporal", "scale": {"type": "utc", "domain": [1704130747000, 1704136636000], "nice": false}},
"y": {"field": "lo", "type": "quantitative", "scale": {"domain": [-23, 463], "nice": false, "zero": false}},
"y2": {"field": "hi"},
"stroke": {"field": "kind", "type": "nominal", "legend": null, "scale": {"domain": ["edge","inner","outer"], "range": ["#888888","#ff0000","#0000ff"]}}
}
}
]
}
]
}
